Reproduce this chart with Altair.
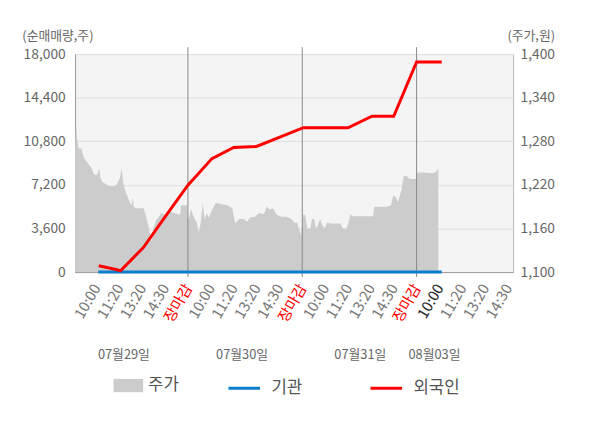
import altair as alt
import pandas as pd

FONT = "Noto Sans CJK KR"

# x positions are label slots: 0 = 07/29 10:00, 4 = 07/29 장마감, 5 = 07/30 10:00 ...
tick_labels = ["10:00", "11:20", "13:20", "14:30", "장마감"] * 3 + ["10:00", "11:20", "13:20", "14:30"]
tick_slots = list(range(len(tick_labels)))
close_slots = [4, 9, 14]
date_labels = ["07월29일", "07월30일", "07월31일", "08월03일"]
date_slots = [1.2, 6.37, 11.54, 14.78]

# 주가 (price, right axis)
price_x = [-0.935, -0.91, -0.89, -0.85, -0.78, -0.66, -0.53, -0.40, -0.22, -0.10,
           0.03, 0.12, 0.17, 0.25, 0.42, 0.55, 0.77, 0.90, 1.03, 1.11,
           1.16, 1.20, 1.33, 1.46, 1.54, 1.59, 1.63, 1.72, 2.06, 2.15,
           2.23, 2.32, 2.41, 2.49, 2.62, 2.84, 3.01, 3.22, 3.44, 3.66,
           3.70, 3.96, 4.00, 4.04, 4.13, 4.26, 4.39, 4.47, 4.56, 4.65,
           4.73, 4.82, 4.91, 4.99, 5.21, 5.38, 5.72, 5.94, 6.07, 6.24,
           6.46, 6.59, 6.72, 6.93, 7.10, 7.32, 7.45, 7.58, 7.71, 7.88,
           8.10, 8.31, 8.53, 8.66, 8.78, 8.95, 9.04, 9.13, 9.22, 9.35,
           9.43, 9.52, 9.60, 9.69, 9.78, 9.86, 9.99, 10.08, 10.25, 10.68,
           10.77, 10.94, 11.03, 11.11, 11.20, 12.10, 12.15, 12.71, 12.88, 12.97,
           13.10, 13.18, 13.27, 13.35, 13.44, 13.57, 13.70, 13.96, 14.04, 14.35,
           14.69, 14.86, 14.95]
price_y = [1271, 1290, 1301, 1285, 1270, 1270, 1256, 1251, 1243, 1234,
           1234, 1243, 1230, 1224, 1221, 1218, 1218, 1221, 1230, 1243,
           1225, 1218, 1206, 1196, 1192, 1202, 1190, 1188, 1188, 1179,
           1169, 1156, 1142, 1161, 1172, 1181, 1179, 1183, 1181, 1179,
           1192, 1192, 1175, 1172, 1187, 1175, 1168, 1154, 1168, 1195,
           1172, 1181, 1175, 1181, 1195, 1194, 1192, 1188, 1167, 1173,
           1173, 1169, 1175, 1176, 1181, 1180, 1190, 1186, 1188, 1179,
           1176, 1176, 1173, 1168, 1168, 1150, 1179, 1179, 1160, 1160,
           1173, 1173, 1160, 1165, 1173, 1165, 1160, 1168, 1167, 1167,
           1160, 1160, 1169, 1180, 1177, 1177, 1190, 1190, 1192, 1205,
           1203, 1196, 1205, 1215, 1233, 1232, 1228, 1228, 1237, 1237,
           1236, 1238, 1243]
price_base = 1100

# 외국인 / 기관 (net volume, left axis)
foreign_x = [0.1, 0.9, 1.05, 2.05, 3.0, 4.0, 5.05, 6.0, 7.0, 9.05, 11.0, 12.05, 13.0, 14.0, 15.1]
foreign_y = [520, 190, 100, 2030, 4560, 7170, 9370, 10290, 10370, 11920, 11920, 12870, 12870, 17350, 17350]
inst_x = [0.08, 4.0, 9.0, 14.0, 15.1]
inst_y = [0, 0, 0, 0, 0]

W, H = 444, 221

price_df = pd.DataFrame({"u": price_x, "p": price_y, "base": price_base, "s": "주가"})
lines_df = pd.concat([
    pd.DataFrame({"u": inst_x, "v": inst_y, "series": "기관"}),
    pd.DataFrame({"u": foreign_x, "v": foreign_y, "series": "외국인"}),
])
rule_df = pd.DataFrame({"u": close_slots})
date_df = pd.DataFrame({"u": date_slots, "label": date_labels})

label_arr = "[" + ",".join("'%s'" % t for t in tick_labels) + "]"
xscale = alt.Scale(domain=[-0.935, 18.22], nice=False, zero=False)
xaxis = alt.Axis(
    values=tick_slots, labelExpr=label_arr + "[datum.value]", labelAngle=-60,
    labelFontSize=15, labelFont=FONT, ticks=False, grid=False, title=None,
    domainColor="#999999", labelPadding=13, labelOverlap=False,
    labelColor={"condition": [
        {"test": "datum.value == 4 || datum.value == 9 || datum.value == 14", "value": "#ff0000"},
        {"test": "datum.value == 15", "value": "#222222"}], "value": "#777777"},
)

area = alt.Chart(price_df).mark_area(color="#cccccc").encode(
    x=alt.X("u:Q", scale=xscale, axis=xaxis),
    y=alt.Y("p:Q", scale=alt.Scale(domain=[1100, 1400], nice=False, zero=False),
            axis=alt.Axis(orient="right", values=[1100, 1160, 1220, 1280, 1340, 1400], format=",.0f",
                          grid=False, ticks=False, labelPadding=7, labelFontSize=14, labelFont=FONT,
                          labelColor="#666666", domainColor="#bbbbbb",
                          title="(주가,원)", titleAngle=0, titleAlign="right", titleBaseline="middle",
                          titleX=42, titleY=-19, titleFontSize=13, titleFont=FONT,
                          titleFontWeight="normal", titleColor="#666666")),
    y2="base:Q",
    fill=alt.Fill("s:N", scale=alt.Scale(domain=["주가"], range=["#cccccc"]),
                  legend=alt.Legend(orient="none", legendX=39, legendY=321, title=None, padding=0,
                                    symbolType="M-1,-0.45H1V0.45H-1Z", symbolSize=900,
                                    symbolStrokeWidth=0, labelFontSize=17, labelFont=FONT,
                                    labelColor="#555555", labelOffset=5)),
)

rules = alt.Chart(rule_df).mark_rule(color="#888888", strokeWidth=1).encode(
    x=alt.X("u:Q", scale=xscale, axis=xaxis),
    y=alt.value(-7), y2=alt.value(H + 5),
)

lines = alt.Chart(lines_df).mark_line(strokeWidth=3).encode(
    x=alt.X("u:Q", scale=xscale, axis=xaxis),
    y=alt.Y("v:Q", scale=alt.Scale(domain=[0, 18000], nice=False),
            axis=alt.Axis(orient="left", values=[0, 3600, 7200, 10800, 14400, 18000], format=",.0f",
                          grid=True, gridColor="#dddddd", ticks=False, labelPadding=10,
                          labelFontSize=14, labelFont=FONT, labelColor="#666666",
                          domainColor="#999999",
                          title="(순매매량,주)", titleAngle=0, titleAlign="left", titleBaseline="middle",
                          titleX=-54, titleY=-19, titleFontSize=13, titleFont=FONT,
                          titleFontWeight="normal", titleColor="#666666")),
    stroke=alt.Stroke("series:N", scale=alt.Scale(domain=["기관", "외국인"], range=["#0a7fcf", "#ff0000"]),
                      legend=alt.Legend(orient="none", legendX=154, legendY=321, title=None, padding=0,
                                        direction="horizontal", symbolType="stroke", symbolSize=1024,
                                        symbolStrokeWidth=3, labelFontSize=17, labelFont=FONT,
                                        labelColor="#555555", labelOffset=10, columnPadding=62)),
    order=alt.Order("series:N"),
)

dates = alt.Chart(date_df).mark_text(font=FONT, fontSize=13, color="#666666", baseline="middle").encode(
    x=alt.X("u:Q", scale=xscale, axis=xaxis),
    y=alt.value(305),
    text="label:N",
)

chart = alt.layer(area, rules, lines, dates).resolve_scale(y="independent").properties(
    width=W, height=H,
    autosize=alt.AutoSizeParams(type="none"),
    padding={"left": 68, "top": 44, "right": 80, "bottom": 130},
    background="white",
).configure_view(fill="#f4f4f4", strokeWidth=0)

chart.save("out.html", embed_options={"renderer": "svg", "actions": False})
